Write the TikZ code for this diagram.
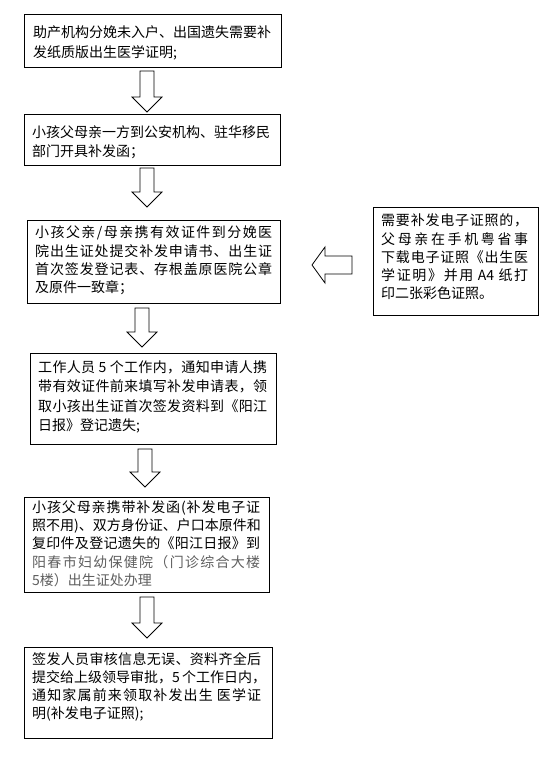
\documentclass[tikz,border=0pt]{standalone}
\usepackage{fontspec}
\setmainfont{Noto Sans CJK SC}
\newXeTeXintercharclass\cjkclass
\newcount\cjkc
\cjkc="4E00 \loop \XeTeXcharclass\cjkc=\cjkclass \advance\cjkc by 1 \ifnum\cjkc<"A000 \repeat
\cjkc="3000 \loop \XeTeXcharclass\cjkc=\cjkclass \advance\cjkc by 1 \ifnum\cjkc<"3040 \repeat
\cjkc="FF00 \loop \XeTeXcharclass\cjkc=\cjkclass \advance\cjkc by 1 \ifnum\cjkc<"FF66 \repeat
\XeTeXinterchartokenstate=1
\newcommand\cjkglue{\hskip0pt plus 2pt\relax}
\XeTeXinterchartoks \cjkclass \cjkclass = {\cjkglue}
\XeTeXinterchartoks 0 \cjkclass = {\cjkglue}
\XeTeXinterchartoks \cjkclass 0 = {\cjkglue}
\definecolor{graytext}{RGB}{95,95,95}
\newcommand\jl[2]{\makebox[#1][s]{#2}}
\newcommand\downblk[3]{%
  \draw[barrow] ({#1pt-7pt},{-#2pt}) -- ({#1pt+7pt},{-#2pt}) -- ({#1pt+7pt},{-#3pt+15pt})
    -- ({#1pt+15pt},{-#3pt+15pt}) -- ({#1pt},{-#3pt}) -- ({#1pt-15pt},{-#3pt+15pt})
    -- ({#1pt-7pt},{-#3pt+15pt}) -- cycle;}
\tikzset{
  box/.style={draw=black, line width=1pt, anchor=north west, inner sep=0pt},
  txt/.style={anchor=north west, inner sep=0pt, align=left, font=\fontsize{14pt}{#1}\selectfont},
  barrow/.style={draw=black, line width=0.8pt, fill=white, line join=miter},
}
\begin{document}
\begin{tikzpicture}
\fill[white] (0,0) rectangle (558pt,-771pt);
\useasboundingbox (0,0) rectangle (558pt,-771pt);

% boxes
\node[box, minimum width=257pt, minimum height=53pt] (b1) at (24pt,-14pt) {};
\node[box, minimum width=256pt, minimum height=51pt] (b2) at (24pt,-114pt) {};
\node[box, minimum width=253pt, minimum height=83pt] (b3) at (27pt,-220pt) {};
\node[box, minimum width=165pt, minimum height=108pt] (b4) at (373pt,-207pt) {};
\node[box, minimum width=246pt, minimum height=91pt] (b5) at (30pt,-353pt) {};
\node[box, minimum width=245pt, minimum height=95pt] (b6) at (24pt,-497pt) {};
\node[box, minimum width=248pt, minimum height=91pt] (b7) at (24pt,-647pt) {};

% texts
\node[txt=20pt] (t1) at (33pt,-25.5pt) {\rule{0pt}{12pt}\jl{236pt}{助产机构分娩未入户、出国遗失需要补}\\发纸质版出生医学证明;};
\node[txt=19pt] (t2) at (32pt,-125.2pt) {\rule{0pt}{12pt}\jl{238pt}{小孩父母亲一方到公安机构、驻华移民}\\部门开具补发函；};
\node[txt=18.3pt] (t3) at (35pt,-225.5pt) {\rule{0pt}{12pt}\jl{237pt}{小孩父亲/母亲携有效证件到分娩医}\\\jl{237pt}{院出生证处提交补发申请书、出生证}\\\jl{237pt}{首次签发登记表、存根盖原医院公章}\\及原件一致章；};
\node[txt=18.3pt] (t4) at (381pt,-213.5pt) {\rule{0pt}{12pt}\jl{147pt}{需要补发电子证照的，}\\\jl{147pt}{父母亲在手机粤省事}\\\jl{147pt}{下载电子证照《出生医}\\\jl{147pt}{学证明》并用 A4 纸打}\\印二张彩色证照。};
\node[txt=19.4pt] (t5) at (38pt,-360.2pt) {\rule{0pt}{12pt}\jl{229pt}{工作人员 5 个工作内，通知申请人携}\\\jl{229pt}{带有效证件前来填写补发申请表，领}\\\jl{229pt}{取小孩出生证首次签发资料到《阳江}\\日报》登记遗失;};
\node[txt=18.2pt] (t6) at (32pt,-500.2pt) {\rule{0pt}{12pt}\jl{228pt}{小孩父母亲携带补发函(补发电子证}\\\jl{228pt}{照不用)、双方身份证、户口本原件和}\\\jl{228pt}{复印件及登记遗失的《阳江日报》到}\\{\color{graytext}\jl{228pt}{阳春市妇幼保健院（门诊综合大楼}}\\{\color{graytext}5楼）出生证处办理}};
\node[txt=18.3pt] (t7) at (32pt,-651.8pt) {\rule{0pt}{12pt}\jl{229pt}{签发人员审核信息无误、资料齐全后}\\\jl{229pt}{提交给上级领导审批，5 个工作日内，}\\\jl{229pt}{通知家属前来领取补发出生 医学证}\\明(补发电子证照);};

% block arrows
\downblk{147}{71}{112}
\downblk{147}{168}{207}
\downblk{142}{308}{347}
\downblk{145}{449}{487}
\downblk{147}{597}{638}
\draw[barrow] (352pt,-256pt) -- (325pt,-256pt) -- (325pt,-247pt) -- (312pt,-265pt)
  -- (325pt,-283pt) -- (325pt,-274pt) -- (352pt,-274pt) -- cycle;
\end{tikzpicture}
\end{document}
